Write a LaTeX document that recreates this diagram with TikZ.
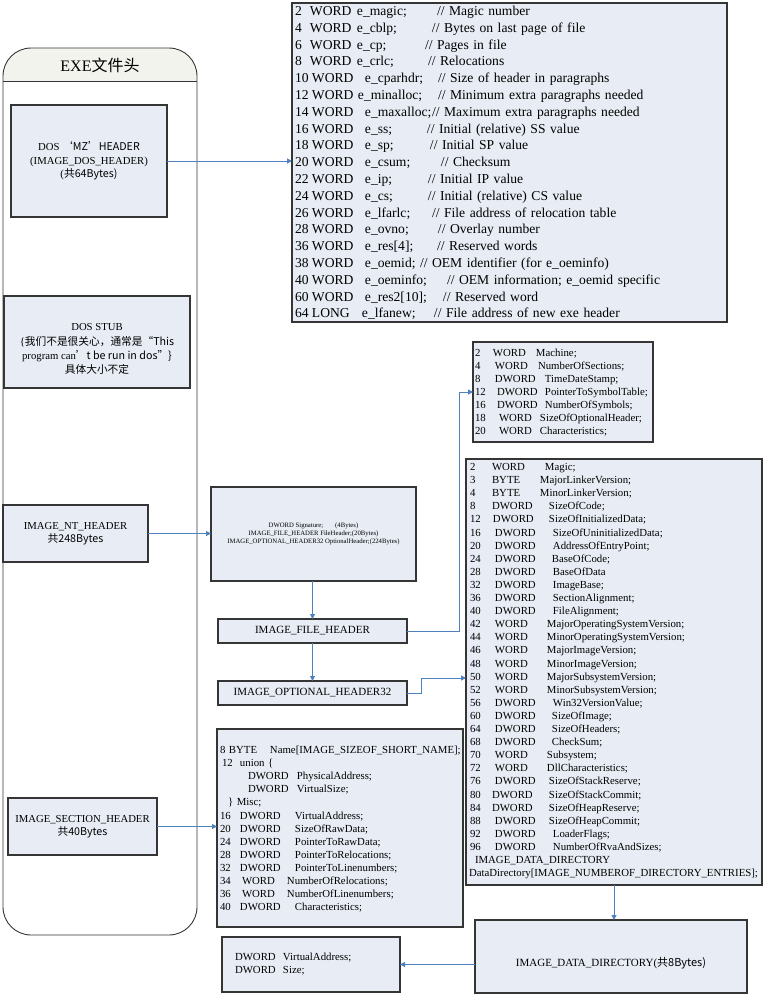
\documentclass[tikz,border=0pt]{standalone}
\usepackage{fontspec}
\setmainfont{Liberation Serif}
\newfontfamily\cjk{Noto Sans CJK SC}
\usetikzlibrary{arrows.meta,calc}
\definecolor{boxfill}{HTML}{E8EDF5}
\definecolor{boxline}{HTML}{353535}
\definecolor{arr}{HTML}{4F81BD}
\definecolor{band}{HTML}{F3F3EE}
\newcommand\cl[2]{\makebox[0pt][l]{\hspace*{#1pt}#2}}
\tikzset{
  box/.style={draw=boxline, fill=boxfill, line width=1.1pt, inner sep=0pt, outer sep=0pt, anchor=north west, align=center, font=\fontsize{10.7}{13.5}\selectfont},
  lst/.style={anchor=north west, inner sep=0pt, outer sep=0pt, text width=#1pt, align=left},
  conn/.style={draw=arr, line width=1pt, -{Triangle[length=5pt,width=5pt]}},
}
\begin{document}
\begin{tikzpicture}[x=1pt,y=-1pt]
\useasboundingbox (0,0) rectangle (765,994);

% left frame
\begin{scope}
  \clip[rounded corners=28pt] (3,48) rectangle (197,935);
  \fill[white] (3,48) rectangle (197,935);
  \fill[band] (3,48) rectangle (197,81);
\end{scope}
\draw[boxline, line width=0.9pt] (3,81) -- (197,81);
\draw[boxline, line width=0.9pt, rounded corners=28pt] (3,48) rectangle (197,935);
\node[font=\fontsize{16}{18}\selectfont, inner sep=0pt] (title) at (100,65) {EXE\cjk{文件头}};

% left boxes
\node[box, minimum width=156pt, minimum height=112pt] (mz) at (11,105)
  {DOS \cjk{‘}MZ\cjk{’}HEADER\\(IMAGE\_DOS\_HEADER)\\(\cjk{共}64Bytes)};
\node[box, minimum width=186pt, minimum height=92pt] (stub) at (4,296) {};
\node[inner sep=0pt, align=center, font=\fontsize{10.7}{14.2}\selectfont] (stubt) at ($(stub.center)+(0,7)$)
  {DOS STUB\\\{\cjk{我们不是很关心，通常是“}This\\program can\cjk{’}t be run in dos\cjk{”}\}\\\cjk{具体大小不定}};
\node[box, minimum width=145pt, minimum height=57pt] (nt) at (3,505)
  {IMAGE\_NT\_HEADER\\\cjk{共}248Bytes};
\node[box, minimum width=149pt, minimum height=57pt] (sh) at (8,798)
  {IMAGE\_SECTION\_HEADER\\\cjk{共}40Bytes};

% DOS header list
\node[box, minimum width=435pt, minimum height=319pt] (dl) at (292,3) {};
\node[lst=420, font=\fontsize{13.6}{16.8}\selectfont] (dlt) at (295,3.7) {%
\strut\cl{0}{2}\cl{15}{WORD}\cl{62}{e\_magic;}\cl{142}{// Magic number}\\
\strut\cl{0}{4}\cl{15}{WORD}\cl{62}{e\_cblp;}\cl{137}{// Bytes on last page of file}\\
\strut\cl{0}{6}\cl{15}{WORD}\cl{62}{e\_cp;}\cl{130}{// Pages in file}\\
\strut\cl{0}{8}\cl{15}{WORD}\cl{62}{e\_crlc;}\cl{133}{// Relocations}\\
\strut\cl{0}{10}\cl{17}{WORD}\cl{70}{e\_cparhdr;}\cl{143}{// Size of header in paragraphs}\\
\strut\cl{0}{12}\cl{17}{WORD}\cl{63}{e\_minalloc;}\cl{143}{// Minimum extra paragraphs needed}\\
\strut\cl{0}{14}\cl{17}{WORD}\cl{70}{e\_maxalloc;}\cl{137}{// Maximum extra paragraphs needed}\\
\strut\cl{0}{16}\cl{17}{WORD}\cl{70}{e\_ss;}\cl{132}{// Initial (relative) SS value}\\
\strut\cl{0}{18}\cl{17}{WORD}\cl{70}{e\_sp;}\cl{135}{// Initial SP value}\\
\strut\cl{0}{20}\cl{17}{WORD}\cl{70}{e\_csum;}\cl{146}{// Checksum}\\
\strut\cl{0}{22}\cl{17}{WORD}\cl{70}{e\_ip;}\cl{133}{// Initial IP value}\\
\strut\cl{0}{24}\cl{17}{WORD}\cl{70}{e\_cs;}\cl{133}{// Initial (relative) CS value}\\
\strut\cl{0}{26}\cl{17}{WORD}\cl{70}{e\_lfarlc;}\cl{137}{// File address of relocation table}\\
\strut\cl{0}{28}\cl{17}{WORD}\cl{70}{e\_ovno;}\cl{143}{// Overlay number}\\
\strut\cl{0}{36}\cl{17}{WORD}\cl{70}{e\_res[4];}\cl{142}{// Reserved words}\\
\strut\cl{0}{38}\cl{17}{WORD}\cl{70}{e\_oemid;}\cl{125}{// OEM identifier (for e\_oeminfo)}\\
\strut\cl{0}{40}\cl{17}{WORD}\cl{70}{e\_oeminfo;}\cl{152}{// OEM information; e\_oemid specific}\\
\strut\cl{0}{60}\cl{17}{WORD}\cl{70}{e\_res2[10];}\cl{148}{// Reserved word}\\
\strut\cl{0}{64}\cl{17}{LONG}\cl{67}{e\_lfanew;}\cl{139}{// File address of new exe header}};

% NT header details
\node[box, minimum width=205pt, minimum height=94pt, font=\fontsize{6.7}{8}\selectfont] (ntd) at (211,487)
  {DWORD Signature;\hspace{12pt}(4Bytes)\\IMAGE\_FILE\_HEADER FileHeader;(20Bytes)\\IMAGE\_OPTIONAL\_HEADER32 OptionalHeader;(224Bytes)};
\node[box, minimum width=189pt, minimum height=24pt, font=\fontsize{11}{13}\selectfont] (fh) at (218,619) {IMAGE\_FILE\_HEADER};
\node[box, minimum width=189pt, minimum height=24pt, font=\fontsize{11}{13}\selectfont] (oh) at (218,681) {IMAGE\_OPTIONAL\_HEADER32};

% file header list
\node[box, minimum width=180pt, minimum height=100pt] (fl) at (473,342) {};
\node[lst=170, font=\fontsize{10.8}{13}\selectfont] (flt) at (475,347.5) {%
\strut\cl{0}{2}\cl{18}{WORD}\cl{61}{Machine;}\\
\strut\cl{0}{4}\cl{20}{WORD}\cl{63}{NumberOfSections;}\\
\strut\cl{0}{8}\cl{20}{DWORD}\cl{70}{TimeDateStamp;}\\
\strut\cl{0}{12}\cl{22}{DWORD}\cl{70}{PointerToSymbolTable;}\\
\strut\cl{0}{16}\cl{22}{DWORD}\cl{70}{NumberOfSymbols;}\\
\strut\cl{0}{18}\cl{24}{WORD}\cl{65}{SizeOfOptionalHeader;}\\
\strut\cl{0}{20}\cl{24}{WORD}\cl{65}{Characteristics;}};

% optional header list
\node[box, minimum width=296pt, minimum height=426pt] (ol) at (466,459) {};
\node[lst=290, font=\fontsize{10.8}{13.1}\selectfont] (olt) at (470,461.4) {%
\strut\cl{0}{2}\cl{22}{WORD}\cl{75}{Magic;}\\
\strut\cl{0}{3}\cl{22}{BYTE}\cl{70}{MajorLinkerVersion;}\\
\strut\cl{0}{4}\cl{22}{BYTE}\cl{70}{MinorLinkerVersion;}\\
\strut\cl{0}{8}\cl{22}{DWORD}\cl{79}{SizeOfCode;}\\
\strut\cl{0}{12}\cl{23}{DWORD}\cl{79}{SizeOfInitializedData;}\\
\strut\cl{0}{16}\cl{25}{DWORD}\cl{83}{SizeOfUninitializedData;}\\
\strut\cl{0}{20}\cl{25}{DWORD}\cl{83}{AddressOfEntryPoint;}\\
\strut\cl{0}{24}\cl{25}{DWORD}\cl{82}{BaseOfCode;}\\
\strut\cl{0}{28}\cl{25}{DWORD}\cl{83}{BaseOfData}\\
\strut\cl{0}{32}\cl{25}{DWORD}\cl{83}{ImageBase;}\\
\strut\cl{0}{36}\cl{25}{DWORD}\cl{83}{SectionAlignment;}\\
\strut\cl{0}{40}\cl{25}{DWORD}\cl{83}{FileAlignment;}\\
\strut\cl{0}{42}\cl{25}{WORD}\cl{77}{MajorOperatingSystemVersion;}\\
\strut\cl{0}{44}\cl{25}{WORD}\cl{77}{MinorOperatingSystemVersion;}\\
\strut\cl{0}{46}\cl{25}{WORD}\cl{77}{MajorImageVersion;}\\
\strut\cl{0}{48}\cl{25}{WORD}\cl{77}{MinorImageVersion;}\\
\strut\cl{0}{50}\cl{25}{WORD}\cl{77}{MajorSubsystemVersion;}\\
\strut\cl{0}{52}\cl{25}{WORD}\cl{77}{MinorSubsystemVersion;}\\
\strut\cl{0}{56}\cl{25}{DWORD}\cl{83}{Win32VersionValue;}\\
\strut\cl{0}{60}\cl{25}{DWORD}\cl{82}{SizeOfImage;}\\
\strut\cl{0}{64}\cl{25}{DWORD}\cl{82}{SizeOfHeaders;}\\
\strut\cl{0}{68}\cl{25}{DWORD}\cl{82}{CheckSum;}\\
\strut\cl{0}{70}\cl{25}{WORD}\cl{77}{Subsystem;}\\
\strut\cl{0}{72}\cl{25}{WORD}\cl{77}{DllCharacteristics;}\\
\strut\cl{0}{76}\cl{25}{DWORD}\cl{79}{SizeOfStackReserve;}\\
\strut\cl{0}{80}\cl{22}{DWORD}\cl{79}{SizeOfStackCommit;}\\
\strut\cl{0}{84}\cl{22}{DWORD}\cl{79}{SizeOfHeapReserve;}\\
\strut\cl{0}{88}\cl{25}{DWORD}\cl{79}{SizeOfHeapCommit;}\\
\strut\cl{0}{92}\cl{25}{DWORD}\cl{83}{LoaderFlags;}\\
\strut\cl{0}{96}\cl{25}{DWORD}\cl{83}{NumberOfRvaAndSizes;}\\
\strut\cl{5}{IMAGE\_DATA\_DIRECTORY}\\
\strut\cl{-1}{DataDirectory[IMAGE\_NUMBEROF\_DIRECTORY\_ENTRIES];}};

% section list
\node[box, minimum width=246pt, minimum height=198pt] (sl) at (217,729) {};
\node[lst=240, font=\fontsize{10.8}{13.1}\selectfont] (slt) at (220,744.4) {%
\strut\cl{0}{8 BYTE}\cl{50}{Name[IMAGE\_SIZEOF\_SHORT\_NAME];}\\
\strut\cl{2}{12\ \ union \{}\\
\strut\cl{28}{DWORD}\cl{77}{PhysicalAddress;}\\
\strut\cl{28}{DWORD}\cl{77}{VirtualSize;}\\
\strut\cl{8}{\} Misc;}\\
\strut\cl{0}{16}\cl{20}{DWORD}\cl{75}{VirtualAddress;}\\
\strut\cl{0}{20}\cl{20}{DWORD}\cl{75}{SizeOfRawData;}\\
\strut\cl{0}{24}\cl{20}{DWORD}\cl{75}{PointerToRawData;}\\
\strut\cl{0}{28}\cl{20}{DWORD}\cl{75}{PointerToRelocations;}\\
\strut\cl{0}{32}\cl{20}{DWORD}\cl{75}{PointerToLinenumbers;}\\
\strut\cl{0}{34}\cl{22}{WORD}\cl{67}{NumberOfRelocations;}\\
\strut\cl{0}{36}\cl{22}{WORD}\cl{67}{NumberOfLinenumbers;}\\
\strut\cl{0}{40}\cl{20}{DWORD}\cl{75}{Characteristics;}};

% data directory
\node[box, minimum width=272pt, minimum height=73pt] (dd) at (475,920) {};
\node[inner sep=0pt, font=\fontsize{11}{13}\selectfont] (ddt) at ($(dd.center)+(0,7)$) {IMAGE\_DATA\_DIRECTORY(\cjk{共}8Bytes)};
\node[box, minimum width=178pt, minimum height=55pt] (dw) at (222,937) {};
\node[lst=170, font=\fontsize{10.8}{13.1}\selectfont] (dwt) at (235,951.4) {%
\strut\cl{0}{DWORD}\cl{48}{VirtualAddress;}\\
\strut\cl{0}{DWORD}\cl{48}{Size;}};

% connectors
\coordinate (fharr) at (473,392);
\coordinate (oharr) at (466,678);
\draw[conn] (mz.east) -- (mz.east -| dl.west);
\draw[conn] (nt.east) -- (nt.east -| ntd.west);
\draw[conn] (fh.north |- ntd.south) -- (fh.north);
\draw[conn] (fh.south) -- (oh.north);
\draw[conn] (fh.east) -- ++(52,0) |- (fharr);
\draw[conn] (oh.east) -- ++(14,0) |- (oharr);
\draw[conn] (sh.east) -- (sh.east -| sl.west);
\draw[conn] (ol.south) -- (ol.south |- dd.north);
\draw[conn] (dd.west |- dw.east) -- (dw.east);
\end{tikzpicture}
\end{document}
